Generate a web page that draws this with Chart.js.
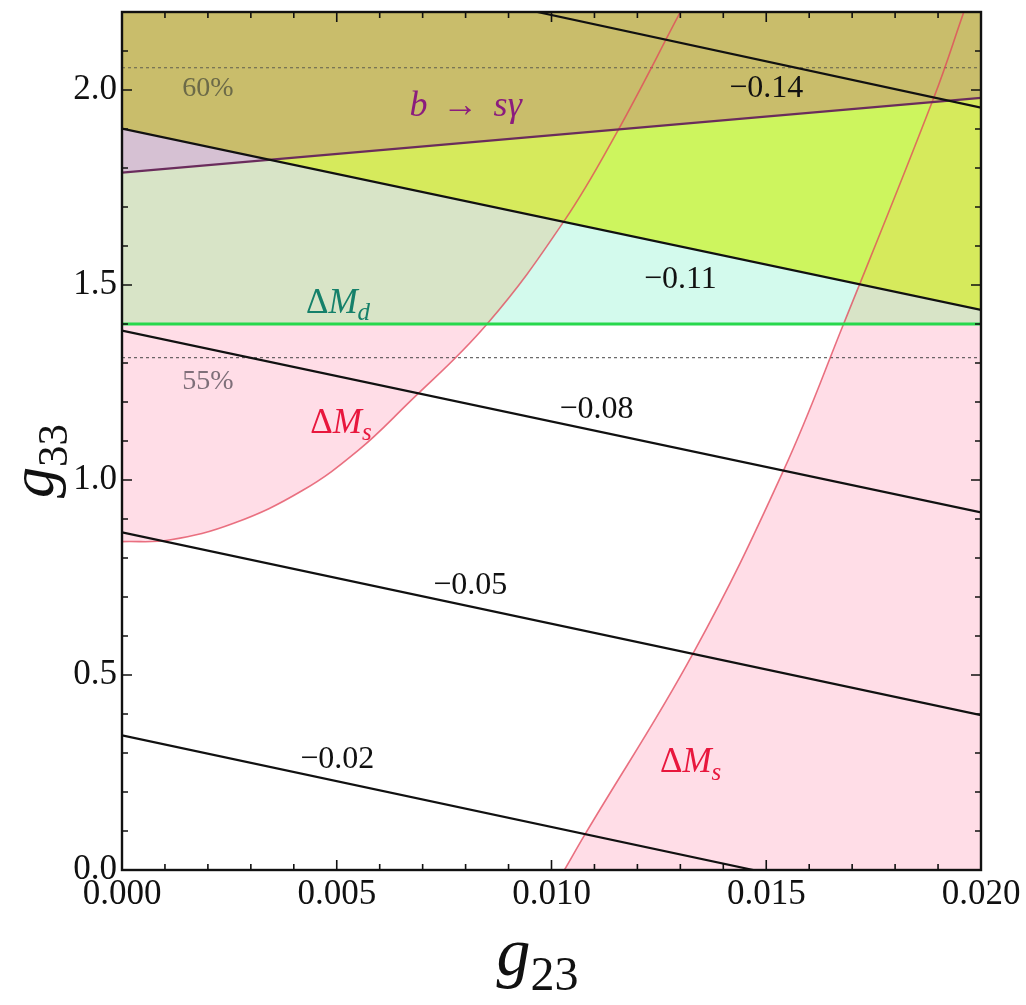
<!DOCTYPE html>
<html><head><meta charset="utf-8">
<script src="https://cdn.jsdelivr.net/npm/chart.js@4.4.1/dist/chart.umd.min.js"></script>
<style>html,body{margin:0;padding:0;background:#fff;}canvas{display:block;}</style>
</head><body>
<canvas id="c" width="1026" height="1005"></canvas>
<script>
// ---------------- data ----------------
const xTickValues = [0, 0.005, 0.010, 0.015, 0.020];
const xTickLabels = ['0.000', '0.005', '0.010', '0.015', '0.020'];
const yTickValues = [0, 0.5, 1.0, 1.5, 2.0];
const yTickLabels = ['0.0', '0.5', '1.0', '1.5', '2.0'];

// contours of the observable (black lines)
const contour002 = [{x: 0, y: 0.345}, {x: 0.0147, y: 0}];
const contour005 = [{x: 0, y: 0.866}, {x: 0.020, y: 0.397}];
const contour008 = [{x: 0, y: 1.383}, {x: 0.020, y: 0.917}];
const contour011 = [{x: 0, y: 1.901}, {x: 0.020, y: 1.436}];
const contour014 = [{x: 0.00967, y: 2.2}, {x: 0.020, y: 1.955}];
const contourLabels = ['\u22120.14', '\u22120.11', '\u22120.08', '\u22120.05', '\u22120.02'];
const contourLabelAt = [[0.0150, 2.010], [0.0130, 1.519], [0.01105, 1.186], [0.00811, 0.735], [0.00501, 0.289]];

// b -> s gamma boundary (excluded above)
const bsgBoundary = [{x: 0, y: 1.788}, {x: 0.020, y: 1.980}];
// Delta M_d boundary (excluded above)
const dMdBoundary = [{x: 0, y: 1.40}, {x: 0.020, y: 1.40}];
// Delta M_s boundaries (excluded left of first, right of second)
const dMsLeft = [
  {x: 0, y: 0.842}, {x: 0.0011, y: 0.846}, {x: 0.0026, y: 0.889}, {x: 0.0042, y: 0.973},
  {x: 0.0055, y: 1.076}, {x: 0.0066, y: 1.190}, {x: 0.0085, y: 1.400}, {x: 0.0103, y: 1.665},
  {x: 0.0115, y: 1.887}, {x: 0.0130, y: 2.2}
];
const dMsRight = [
  {x: 0.0103, y: 0}, {x: 0.0108, y: 0.095}, {x: 0.0133, y: 0.556},
  {x: 0.0154, y: 1.024}, {x: 0.0168, y: 1.400}, {x: 0.0189, y: 1.980},
  {x: 0.0196, y: 2.2}
];
// percentage reference lines (dotted)
const level60 = [{x: 0, y: 2.057}, {x: 0.020, y: 2.057}];
const level55 = [{x: 0, y: 1.314}, {x: 0.020, y: 1.314}];
const levelLabels = ['60%', '55%'];
const levelLabelAt = [[0.0020, 2.008], [0.0020, 1.258]];

const regionLabelAt = {bsg: [0.0080, 1.964], dMd: [0.00503, 1.460], dMs1: [0.0051, 1.152], dMs2: [0.01324, 0.282]};

// ---------------- styles ----------------
const SERIF = '"Liberation Serif", "DejaVu Serif", serif';
const COLORS = {
  pink: '#ffdde7', cyan: '#d3faed', pinkCyan: '#d8e4c7',
  yellow: '#cdf55e', pinkYellow: '#d6ea5c', mauve: '#d6c1d3', olive: '#c9bd6b'
};

function ds(key, data, color, width, extra) {
  return Object.assign({key, data, borderColor: color, borderWidth: width, pointRadius: 0,
    pointHoverRadius: 0, fill: false, tension: 0}, extra || {});
}

const datasets = [
  ds('c002', contour002, '#111', 2.2),
  ds('c005', contour005, '#111', 2.2),
  ds('c008', contour008, '#111', 2.2),
  ds('c011', contour011, '#111', 2.2),
  ds('c014', contour014, '#111', 2.2),
  ds('bsg', bsgBoundary, '#6a2c5c', 2.2),
  ds('dMd', dMdBoundary, '#27d84c', 3),
  ds('dMsL', dMsLeft, 'rgba(226,70,90,0.75)', 1.6, {tension: 0.4}),
  ds('dMsR', dMsRight, 'rgba(226,70,90,0.75)', 1.6, {tension: 0.4}),
  ds('l60', level60, 'rgba(70,70,70,0.8)', 1.2, {borderDash: [3, 3]}),
  ds('l55', level55, 'rgba(70,70,70,0.8)', 1.2, {borderDash: [3, 3]})
];

// ---------------- plugins ----------------
function lineEl(chart, key) {
  const i = chart.data.datasets.findIndex(d => d.key === key);
  const el = chart.getDatasetMeta(i).dataset;
  el.updateControlPoints(chart.chartArea, 'x');
  return el;
}

const regionPlugin = {
  id: 'regions',
  beforeDatasetsDraw(chart) {
    const {ctx, chartArea: a, scales: {y}} = chart;
    const pinkPath = () => {
      ctx.beginPath();
      lineEl(chart, 'dMsL').path(ctx);
      ctx.lineTo(a.left, a.top); ctx.closePath();
      lineEl(chart, 'dMsR').path(ctx);
      ctx.lineTo(a.right, a.top); ctx.lineTo(a.right, a.bottom); ctx.closePath();
    };
    const abovePath = key => {
      ctx.beginPath();
      lineEl(chart, key).path(ctx);
      ctx.lineTo(a.right, a.top); ctx.lineTo(a.left, a.top); ctx.closePath();
    };
    const dMdY = y.getPixelForValue(dMdBoundary[0].y);
    const aboveDMd = () => { ctx.beginPath(); ctx.rect(a.left, a.top, a.right - a.left, dMdY - a.top); };

    ctx.save();
    ctx.beginPath(); ctx.rect(a.left, a.top, a.right - a.left, a.bottom - a.top); ctx.clip();
    // Delta M_s excluded
    pinkPath(); ctx.fillStyle = COLORS.pink; ctx.fill();
    // Delta M_d excluded
    aboveDMd(); ctx.fillStyle = COLORS.cyan; ctx.fill();
    ctx.save(); pinkPath(); ctx.clip(); aboveDMd(); ctx.fillStyle = COLORS.pinkCyan; ctx.fill(); ctx.restore();
    // region above the -0.11 contour
    abovePath('c011'); ctx.fillStyle = COLORS.yellow; ctx.fill();
    ctx.save(); pinkPath(); ctx.clip(); abovePath('c011'); ctx.fillStyle = COLORS.pinkYellow; ctx.fill(); ctx.restore();
    // b -> s gamma excluded
    abovePath('bsg'); ctx.fillStyle = COLORS.mauve; ctx.fill();
    ctx.save(); abovePath('c011'); ctx.clip(); abovePath('bsg'); ctx.fillStyle = COLORS.olive; ctx.fill(); ctx.restore();
    ctx.restore();
  }
};

function drawParts(ctx, parts, cx, cy, size, color) {
  const fontOf = p => (p.it ? 'italic ' : '') + Math.round(size * (p.sub ? 0.7 : 1)) + 'px ' + SERIF;
  let total = 0;
  const widths = parts.map(p => { ctx.font = fontOf(p); const w = ctx.measureText(p.t).width + (p.gap || 0) * size; total += w; return w; });
  let xx = cx - total / 2;
  const base = cy + size * 0.34;
  ctx.fillStyle = color; ctx.textAlign = 'left'; ctx.textBaseline = 'alphabetic';
  parts.forEach((p, i) => { ctx.font = fontOf(p); ctx.fillText(p.t, xx, base + (p.sub ? size * 0.22 : 0)); xx += widths[i]; });
}

const labelPlugin = {
  id: 'labels',
  afterDatasetsDraw(chart) {
    const {ctx, scales: {x, y}} = chart;
    const P = pos => [x.getPixelForValue(pos[0]), y.getPixelForValue(pos[1])];
    ctx.save();
    contourLabels.forEach((t, i) => { const [px, py] = P(contourLabelAt[i]); drawParts(ctx, [{t}], px, py, 32, '#111'); });
    let [px, py] = P(levelLabelAt[0]); drawParts(ctx, [{t: levelLabels[0]}], px, py, 28, '#6c6a48');
    [px, py] = P(levelLabelAt[1]); drawParts(ctx, [{t: levelLabels[1]}], px, py, 28, '#7e6f79');
    [px, py] = P(regionLabelAt.bsg);
    drawParts(ctx, [{t: 'b', it: 1, gap: 0.42}, {t: '\u2192', gap: 0.42}, {t: 's', it: 1}, {t: '\u03b3', it: 1}], px, py, 36, '#8b1c7e');
    [px, py] = P(regionLabelAt.dMd);
    drawParts(ctx, [{t: '\u0394'}, {t: 'M', it: 1}, {t: 'd', it: 1, sub: 1}], px, py, 35, '#15806a');
    [px, py] = P(regionLabelAt.dMs1);
    drawParts(ctx, [{t: '\u0394'}, {t: 'M', it: 1}, {t: 's', it: 1, sub: 1}], px, py, 35, '#e8173d');
    [px, py] = P(regionLabelAt.dMs2);
    drawParts(ctx, [{t: '\u0394'}, {t: 'M', it: 1}, {t: 's', it: 1, sub: 1}], px, py, 35, '#e8173d');
    ctx.restore();
  }
};

const framePlugin = {
  id: 'frame',
  afterDraw(chart) {
    const {ctx, chartArea: a, scales: {x, y}} = chart;
    ctx.save();
    ctx.strokeStyle = '#111'; ctx.lineWidth = 1.6;
    ctx.beginPath();
    for (let i = 0; i <= 20; i++) {
      const p = x.getPixelForValue(i * 0.001), L = i % 5 === 0 ? 10 : 6;
      ctx.moveTo(p, a.bottom); ctx.lineTo(p, a.bottom - L);
      ctx.moveTo(p, a.top); ctx.lineTo(p, a.top + L);
    }
    for (let i = 0; i <= 22; i++) {
      const p = y.getPixelForValue(i * 0.1), L = i % 5 === 0 ? 10 : 6;
      ctx.moveTo(a.left, p); ctx.lineTo(a.left + L, p);
      ctx.moveTo(a.right, p); ctx.lineTo(a.right - L, p);
    }
    ctx.stroke();
    ctx.lineWidth = 2.4;
    ctx.strokeRect(a.left, a.top, a.right - a.left, a.bottom - a.top);
    // axis titles
    drawParts(ctx, [{t: 'g', it: 1}, {t: '23', sub: 1}], (a.left + a.right) / 2 - 14, 952, 68, '#111');
    ctx.translate(40, (a.top + a.bottom) / 2 + 20);
    ctx.rotate(-Math.PI / 2);
    drawParts(ctx, [{t: 'g', it: 1}, {t: '33', sub: 1}], 0, -8, 62, '#111');
    ctx.restore();
  }
};

// ---------------- chart ----------------
new Chart(document.getElementById('c'), {
  type: 'line',
  data: {datasets},
  options: {
    responsive: false, animation: false,
    layout: {padding: {top: 12, right: 45, left: 0, bottom: 0}},
    plugins: {legend: {display: false}, tooltip: {enabled: false}},
    scales: {
      x: {
        type: 'linear', min: 0, max: 0.02,
        afterBuildTicks: s => { s.ticks = xTickValues.map(v => ({value: v})); },
        ticks: {callback: (v, i) => xTickLabels[i], font: {family: SERIF, size: 35}, color: '#111',
          padding: 4, maxRotation: 0, autoSkip: false},
        grid: {display: false, drawTicks: false}, border: {display: false},
        afterFit: s => { s.height = 135; s.paddingLeft = 0; s.paddingRight = 0; }
      },
      y: {
        type: 'linear', min: 0, max: 2.2,
        afterBuildTicks: s => { s.ticks = yTickValues.map(v => ({value: v})); },
        ticks: {callback: (v, i) => yTickLabels[i], font: {family: SERIF, size: 35}, color: '#111',
          padding: 5, autoSkip: false},
        grid: {display: false, drawTicks: false}, border: {display: false},
        afterFit: s => { s.width = 122; s.paddingTop = 0; s.paddingBottom = 0; }
      }
    }
  },
  plugins: [regionPlugin, labelPlugin, framePlugin]
});
</script>
</body></html>
